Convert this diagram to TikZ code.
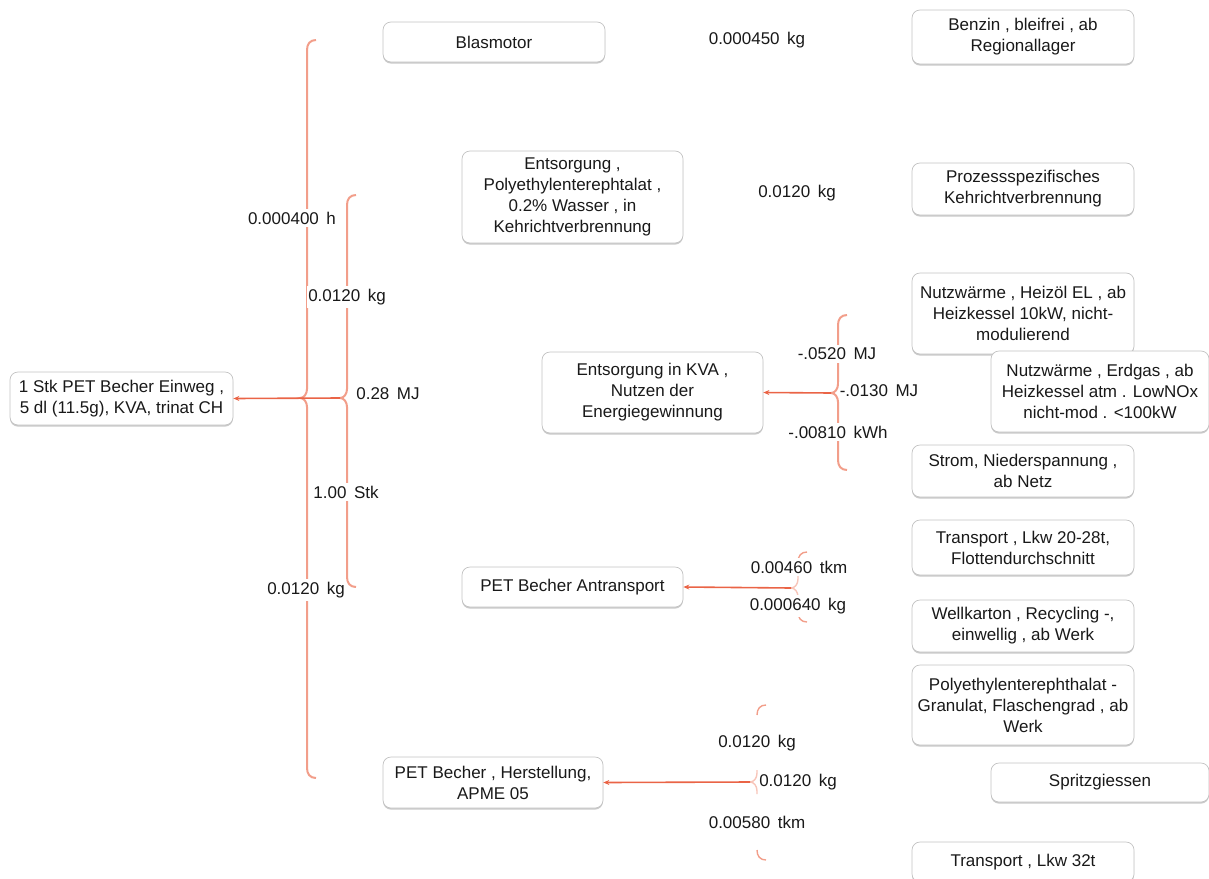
\documentclass[tikz,border=0pt]{standalone}
\usepackage{fontspec}
\setmainfont{Liberation Sans}
\usetikzlibrary{shadows,arrows.meta}
\definecolor{bracec}{RGB}{242,158,138}
\definecolor{arrc}{RGB}{234,100,70}
\definecolor{boxc}{RGB}{195,195,195}
\newcommand\mybrace[4]{%
  \draw[bracepen] ({#1+9},{#2}) .. controls ({#1+3},{#2}) and ({#1},{#2+4}) .. ({#1},{#2+10})
    -- ({#1},{#3-9}) .. controls ({#1},{#3-4}) and ({#1-3},{#3}) .. ({#1-7},{#3})
    .. controls ({#1-3},{#3}) and ({#1},{#3+4}) .. ({#1},{#3+9})
    -- ({#1},{#4-10}) .. controls ({#1},{#4-4}) and ({#1+3},{#4}) .. ({#1+9},{#4});}
\newcommand\myfaintbrace[4]{%
  \draw[bracepen, line width=1.4pt] ({#1+9},{#2}) .. controls ({#1+3},{#2}) and ({#1},{#2+4}) .. ({#1},{#2+10});
  \draw[bracepen, line width=1.4pt, opacity=0.6] ({#1},{#3-12}) -- ({#1},{#3-9}) .. controls ({#1},{#3-4}) and ({#1-3},{#3}) .. ({#1-7},{#3})
    .. controls ({#1-3},{#3}) and ({#1},{#3+4}) .. ({#1},{#3+9}) -- ({#1},{#3+12});
  \draw[bracepen, line width=1.4pt] ({#1},{#4-10}) .. controls ({#1},{#4-4}) and ({#1+3},{#4}) .. ({#1+9},{#4});}
\begin{document}
\begin{tikzpicture}[x=1pt,y=-1pt,
  font=\fontsize{17}{21}\selectfont,
  box/.style={draw=boxc, line width=0.7pt, rounded corners=8pt, fill=white, align=center,
    inner sep=2pt, text=black!90, drop shadow={shadow xshift=0pt, shadow yshift=-1.6pt, fill=black!35, opacity=0.6}},
  lab/.style={fill=white, inner xsep=1pt, inner ysep=3pt, text=black!90},
  bracepen/.style={draw=bracec, line width=2pt},
  arr/.style={draw=arrc, line width=1.6pt, -{Stealth[length=6pt,width=5pt]}}]
\useasboundingbox (0,0) rectangle (1209,878);
% boxes
\node[box, minimum width=223pt, minimum height=53pt] (root) at (121.5,398.5) {1 Stk PET Becher Einweg ,\\5 dl (11.5g), KVA, trinat CH};
\node[box, minimum width=222pt, minimum height=40pt] (blas) at (494,42) {Blasmotor};
\node[box, minimum width=221pt, minimum height=92pt] (ents) at (572.5,197) {Entsorgung ,\\Polyethylenterephtalat ,\\0.2\% Wasser , in\\Kehrichtverbrennung};
\node[box, minimum width=221pt, minimum height=81pt] (kva) at (652.5,392.5) {Entsorgung in KVA ,\\Nutzen der\\Energiegewinnung};
\node[box, minimum width=221pt, minimum height=40pt] (antr) at (572.5,587) {PET Becher Antransport};
\node[box, minimum width=220pt, minimum height=51pt] (herst) at (493,782.5) {PET Becher , Herstellung,\\APME 05};
\node[box, minimum width=222pt, minimum height=54pt] (benz) at (1023,37) {Benzin , bleifrei , ab\\Regionallager};
\node[box, minimum width=222pt, minimum height=52pt] (proz) at (1023,189) {Prozessspezifisches\\Kehrichtverbrennung};
\node[box, minimum width=222pt, minimum height=81pt] (heiz) at (1023,313.5) {Nutzwärme , Heizöl EL , ab\\Heizkessel 10kW, nicht-\\modulierend};
\node[box, minimum width=218pt, minimum height=81pt] (erdg) at (1100,391.5) {Nutzwärme , Erdgas , ab\\Heizkessel atm . LowNOx\\nicht-mod . <100kW};
\node[box, minimum width=222pt, minimum height=52pt] (strom) at (1023,471) {Strom, Niederspannung ,\\ab Netz};
\node[box, minimum width=222pt, minimum height=55pt] (trans) at (1023,547.5) {Transport , Lkw 20-28t,\\Flottendurchschnitt};
\node[box, minimum width=222pt, minimum height=52pt] (well) at (1023,626) {Wellkarton , Recycling -,\\einwellig , ab Werk};
\node[box, minimum width=222pt, minimum height=80pt] (poly) at (1023,705) {Polyethylenterephthalat -\\Granulat, Flaschengrad , ab\\Werk};
\node[box, minimum width=218pt, minimum height=39pt] (spritz) at (1100,782.5) {Spritzgiessen};
\node[box, minimum width=222pt, minimum height=40pt] (lkw) at (1023,862) {Transport , Lkw 32t};
% braces
\mybrace{307}{40}{398}{778}
\mybrace{347}{195}{398}{587}
\mybrace{838}{315}{393}{470}
\myfaintbrace{798}{552}{588}{622}
\myfaintbrace{757}{705}{782}{860}
\coordinate (tinner) at (340,398);
\coordinate (tkva) at (831,393);
\coordinate (tantr) at (791,588);
\coordinate (therst) at (750,782);
% labels
\node[lab] (l1) at (757,40) {0.000450 \,kg};
\node[lab] (l2) at (797,193) {0.0120 \,kg};
\node[lab] (l3) at (292,218) {0.000400 \,h};
\node[lab] (l4) at (347,297) {0.0120 \,kg};
\node[lab] (l5) at (388,394) {0.28 \,MJ};
\node[lab] (l6) at (346,492) {1.00 \,Stk};
\node[lab] (l7) at (306,590) {0.0120 \,kg};
\node[lab] (l8) at (837,354) {-.0520 \,MJ};
\node[lab] (l9) at (879,391) {-.0130 \,MJ};
\node[lab] (l10) at (838,432) {-.00810 \,kWh};
\node[lab] (l11) at (799,567) {0.00460 \,tkm};
\node[lab] (l12) at (798,606) {0.000640 \,kg};
\node[lab] (l13) at (757,743) {0.0120 \,kg};
\node[lab] (l14) at (798,782) {0.0120 \,kg};
\node[lab] (l15) at (757,822) {0.00580 \,tkm};
% arrows
\draw[arr] (tinner) -- (root.east);
\draw[arr] (tkva) -- (kva.east);
\draw[arr] (tantr) -- (antr.east);
\draw[arr] (therst) -- (herst.east);
\end{tikzpicture}
\end{document}
